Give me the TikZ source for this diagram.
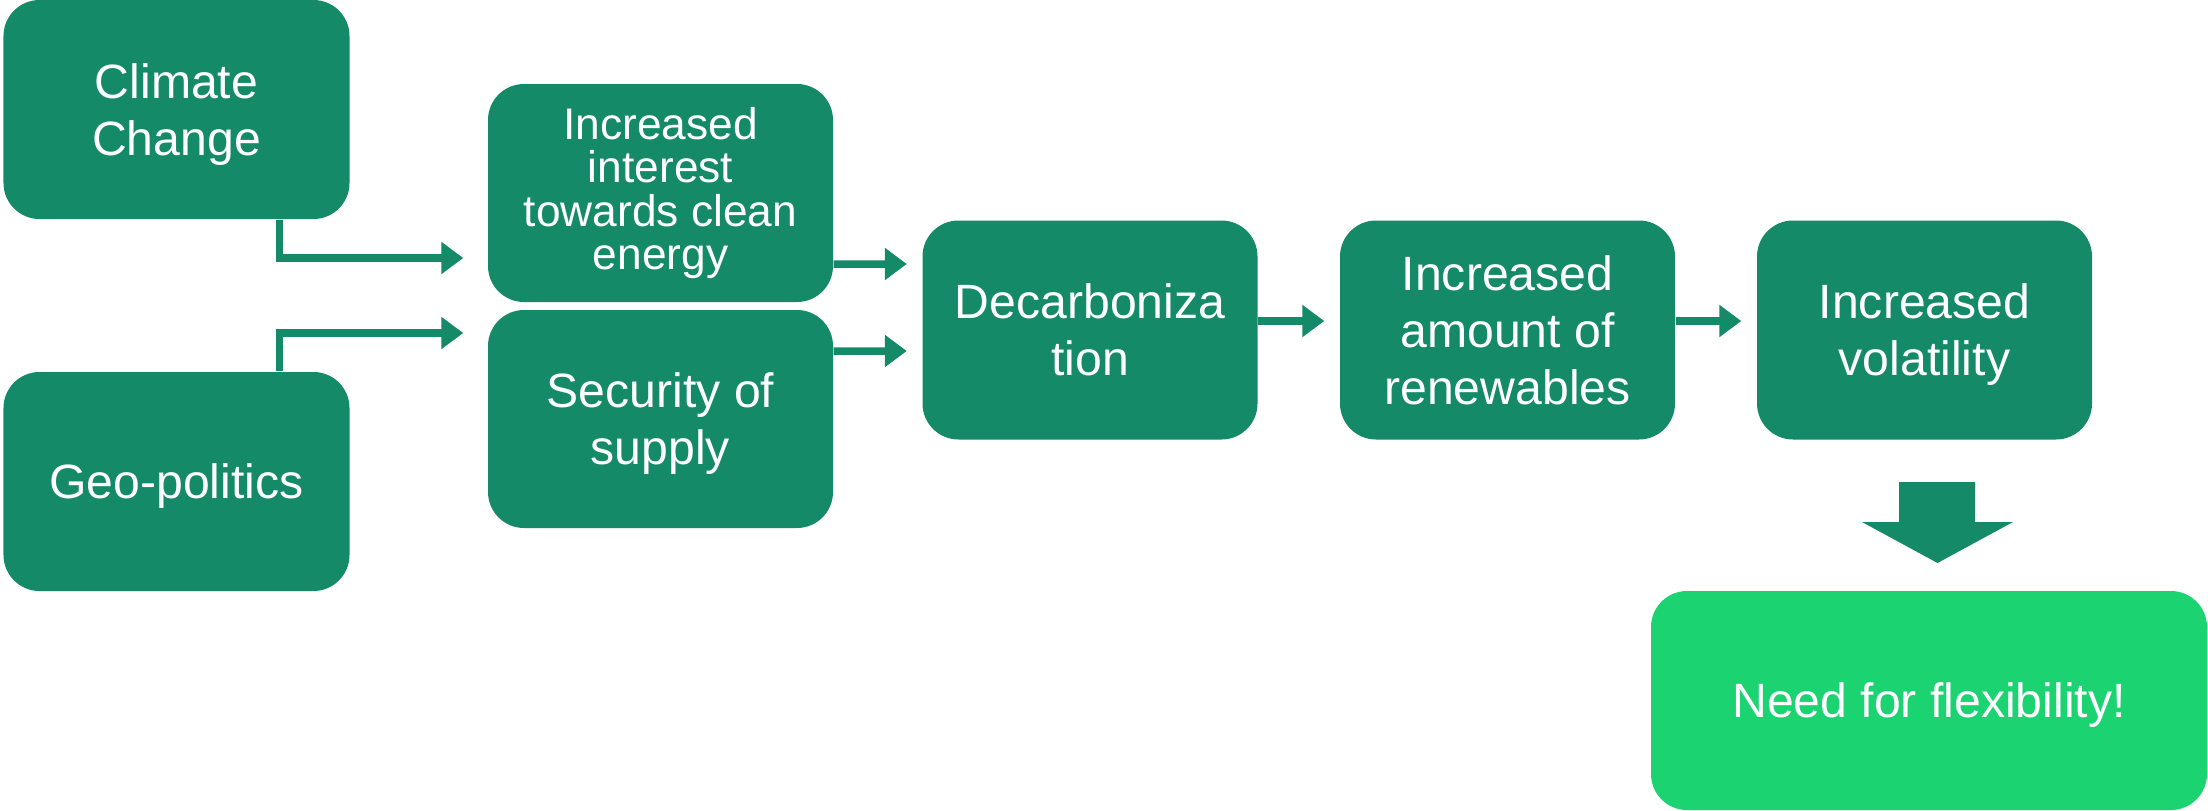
\documentclass[tikz,border=0pt]{standalone}
\usepackage{fontspec}
\setmainfont{Liberation Sans}
\usetikzlibrary{arrows.meta}
\definecolor{dkgreen}{RGB}{20,138,104}
\definecolor{ltgreen}{RGB}{28,211,114}
\tikzset{box/.style = {fill=dkgreen, text=white, rounded corners=3.6mm, align=center,
                       inner sep=0pt, minimum width=3.35cm, minimum height=2.19cm, text depth=0pt,
                       font=\fontsize{13.7}{16.2}\selectfont},
         flow/.style = {draw=dkgreen, line width=0.75mm, -{Triangle[length=2.2mm,width=3.1mm]}}}

\begin{document}
\begin{tikzpicture}
\useasboundingbox (0,0) rectangle (22.08,8.10);
\node [box, minimum width=3.46cm] (climate) at (1.765,7.005) {Climate\\Change};
\node [box, minimum width=3.46cm] (geo) at (1.765,3.285) {Geo-politics};
\node [box, minimum width=3.45cm, minimum height=2.18cm, text depth={}, font=\fontsize{12.6}{12.3}\selectfont] (interest) at (6.605,6.17) {Increased\\interest\\towards clean\\energy};
\node [box, minimum width=3.45cm, minimum height=2.18cm] (security) at (6.605,3.91) {Security of\\supply};
\node [box] (decarb) at (10.90,4.80) {Decarboniza\\tion};
\node [box] (renew) at (15.075,4.80) {Increased\\amount of\\renewables};
\node [box] (volat) at (19.245,4.80) {Increased\\volatility};
\node [box, fill=ltgreen, minimum width=5.56cm] (need) at (19.29,1.095) {Need for flexibility!};
% connectors
\draw [flow] ([xshift=1.03cm]climate.south) |- ([xshift=-2.4mm,yshift=-6.5mm]interest.west);
\draw [flow] ([xshift=1.03cm]geo.north) |- ([xshift=-2.4mm,yshift=8.6mm]security.west);
\draw [flow] ([yshift=-7.1mm]interest.east) -- ([xshift=-1.5mm,yshift=6.6mm]decarb.west);
\draw [flow] ([yshift=6.8mm]security.east) -- ([xshift=-1.5mm,yshift=-2.1mm]decarb.west);
\draw [flow] ([yshift=0.9mm]decarb.east) -- ([xshift=-1.5mm,yshift=0.9mm]renew.west);
\draw [flow] ([yshift=0.9mm]renew.east) -- ([xshift=-1.5mm,yshift=0.9mm]volat.west);
% block arrow down
\fill [dkgreen] (18.99,3.28) -- (19.75,3.28) -- (19.75,2.88) -- (20.13,2.88) -- (19.375,2.47) -- (18.62,2.88) -- (18.99,2.88) -- cycle;
\end{tikzpicture}
\end{document}
